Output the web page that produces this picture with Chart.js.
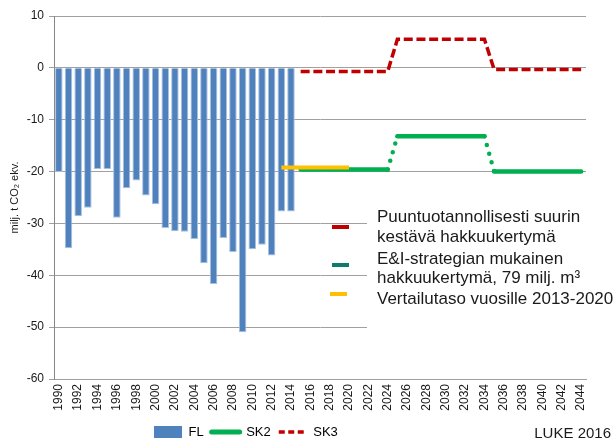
<!DOCTYPE html>
<html>
<head>
<meta charset="utf-8">
<title>FL SK2 SK3</title>
<script src="https://cdn.jsdelivr.net/npm/chart.js@4.4.1/dist/chart.umd.min.js"></script>
<style>
  html, body { margin: 0; padding: 0; background: #fff; }
  canvas { display: block; }
</style>
</head>
<body>
<canvas id="chart" width="614" height="440"></canvas>
<script>
// categories
const years = [
  '1990','1991','1992','1993','1994','1995','1996','1997','1998','1999',
  '2000','2001','2002','2003','2004','2005','2006','2007','2008','2009',
  '2010','2011','2012','2013','2014','2015','2016','2017','2018','2019',
  '2020','2021','2022','2023','2024','2025','2026','2027','2028','2029',
  '2030','2031','2032','2033','2034','2035','2036','2037','2038','2039',
  '2040','2041','2042','2043','2044'
];

// FL, 1990-2014 (milj. t CO2 ekv.)
const fl = [
  -20.1, -34.8, -28.6, -27.0, -19.5, -19.5, -28.9, -23.2, -21.7, -24.6,
  -26.3, -30.9, -31.5, -31.6, -33.0, -37.7, -41.7, -32.8, -35.5, -51.0,
  -35.0, -34.1, -36.2, -27.7, -27.7
];

// scenarios 2015-2044
const sk2 = [
  -19.6, -19.6, -19.6, -19.6, -19.6, -19.6, -19.6, -19.6, -19.6, -19.6,
  -13.2, -13.2, -13.2, -13.2, -13.2, -13.2, -13.2, -13.2, -13.2, -13.2,
  -20.0, -20.0, -20.0, -20.0, -20.0, -20.0, -20.0, -20.0, -20.0, -20.0
];
const sk3 = [
  -0.7, -0.7, -0.7, -0.7, -0.7, -0.7, -0.7, -0.7, -0.7, -0.7,
  5.5, 5.5, 5.5, 5.5, 5.5, 5.5, 5.5, 5.5, 5.5, 5.5,
  -0.3, -0.3, -0.3, -0.3, -0.3, -0.3, -0.3, -0.3, -0.3, -0.3
];
// vertailutaso 2013-2020
const refLevel = [-19.2, -19.2, -19.2, -19.2, -19.2, -19.2, -19.2, -19.2];

const yTicks = [10, 0, -10, -20, -30, -40, -50, -60];

const BLUE = '#4F81BD';
const GREEN = '#00B050';
const RED = '#C00000';
const TEAL = '#0E7C6B';
const YELLOW = '#FFC000';
const TEXT = '#1a1a1a';
const GRID = '#A0A0A0';
const FONT = '"Liberation Sans", Arial, sans-serif';

// place a series on the year axis
function onYears(startYear, values) {
  const out = years.map(() => null);
  const i0 = years.indexOf(String(startYear));
  values.forEach((v, i) => { out[i0 + i] = v; });
  return out;
}

const noteText = [
  { lines: ['Puuntuotannollisesti suurin', 'kestävä hakkuukertymä'], color: RED },
  { lines: ['E&I-strategian mukainen', 'hakkuukertymä, 79 milj. m³'], color: TEAL },
  { lines: ['Vertailutaso vuosille 2013-2020'], color: YELLOW }
];

const notes = {
  id: 'notes',
  beforeDatasetsDraw(chart) {
    // white box behind the note text hides the grid lines
    const ctx = chart.ctx;
    ctx.save();
    ctx.fillStyle = '#fff';
    ctx.fillRect(367, 190, chart.width - 367, 150);
    ctx.restore();
  },
  afterDraw(chart) {
    const ctx = chart.ctx;
    ctx.save();
    ctx.font = '17px ' + FONT;
    ctx.fillStyle = TEXT;
    ctx.textBaseline = 'alphabetic';
    const baselines = [[222, 242], [264, 283], [304]];
    const marks = [227, 265, 294];
    noteText.forEach((n, k) => {
      n.lines.forEach((t, j) => ctx.fillText(t, 377, baselines[k][j]));
      ctx.fillStyle = n.color;
      ctx.fillRect(k === 2 ? 330 : 332, marks[k] - 2, 17, 4);
      ctx.fillStyle = TEXT;
    });
    ctx.font = '15px ' + FONT;
    ctx.textAlign = 'right';
    ctx.fillText('LUKE 2016', 611, 438);
    ctx.restore();
  },
  afterLayout(chart) {
    // x labels are clipped to the scale box: let it reach the canvas bottom
    const x = chart.scales.x;
    x.bottom = chart.height;
    x.height = x.bottom - x.top;
    // legend sits left of centre, as in the original
    const lg = chart.legend;
    if (!lg || !lg.lineWidths) return;
    const pad = lg.options.labels.padding;
    const start = (lg.left + pad + lg.right - lg.lineWidths[0]) / 2;
    const dx = 154 - start;
    lg.left += dx; lg.right += dx;
    const dy = 432 - (lg.top + pad + 6.5);
    lg.top += dy; lg.bottom += dy;
  }
};

new Chart(document.getElementById('chart'), {
  type: 'bar',
  data: {
    labels: years,
    datasets: [
      {
        label: 'FL',
        data: onYears(1990, fl),
        backgroundColor: BLUE,
        borderColor: '#A9C1E0',
        borderWidth: { left: 1, right: 1, top: 0, bottom: 1 },
        borderSkipped: false,
        categoryPercentage: 1,
        barPercentage: 0.78,
        order: 3
      },
      {
        type: 'line',
        label: 'SK2',
        data: onYears(2015, sk2),
        borderColor: GREEN,
        borderWidth: 4.5,
        borderCapStyle: 'round',
        pointRadius: 0,
        pointHoverRadius: 0,
        segment: {
          borderDash: c => c.p0.parsed.y !== c.p1.parsed.y ? [0, 9] : undefined
        },
        order: 1
      },
      {
        type: 'line',
        label: 'SK3',
        data: onYears(2015, sk3),
        borderColor: RED,
        borderWidth: 3.5,
        borderDash: [9, 3.7],
        pointRadius: 0,
        pointHoverRadius: 0,
        order: 2
      },
      {
        type: 'line',
        label: 'Vertailutaso vuosille 2013-2020',
        data: onYears(2013, refLevel),
        borderColor: YELLOW,
        borderWidth: 4,
        pointRadius: 0,
        pointHoverRadius: 0,
        order: 0
      }
    ]
  },
  options: {
    responsive: false,
    animation: false,
    events: [],
    layout: { padding: { top: 16, right: 28, left: 0, bottom: 0 } },
    plugins: {
      tooltip: { enabled: false },
      legend: {
        position: 'bottom',
        labels: {
          usePointStyle: true,
          pointStyleWidth: 28,
          boxWidth: 28,
          boxHeight: 12,
          padding: 8,
          color: TEXT,
          font: { family: FONT, size: 13 },
          generateLabels: () => [
            { text: 'FL', fillStyle: BLUE, strokeStyle: BLUE, lineWidth: 0, pointStyle: 'rect', datasetIndex: 0 },
            { text: 'SK2', fillStyle: GREEN, strokeStyle: GREEN, lineWidth: 5, lineCap: 'round', pointStyle: 'line', datasetIndex: 1 },
            { text: 'SK3', fillStyle: RED, strokeStyle: RED, lineWidth: 3.5, lineDash: [6, 3.5], pointStyle: 'line', datasetIndex: 2 }
          ]
        }
      }
    },
    scales: {
      x: {
        grid: { display: false, drawTicks: false },
        border: { display: true, color: GRID, width: 1 },
        ticks: {
          autoSkip: false,
          minRotation: 90,
          maxRotation: 90,
          padding: 5,
          color: TEXT,
          font: { family: FONT, size: 12 },
          callback: function (v, i) { return i % 2 === 0 ? years[i] : ''; }
        },
        afterFit(scale) {
          const lg = scale.chart.legend;
          scale.height = 440 - (lg ? lg.height : 0) - 379;
        }
      },
      y: {
        min: -60,
        max: 10,
        afterBuildTicks(scale) {
          scale.ticks = yTicks.map(v => ({ value: v }));
        },
        grid: { color: GRID, lineWidth: 1, tickLength: 5 },
        border: { display: true, color: '#888', width: 1 },
        ticks: {
          padding: 5,
          color: TEXT,
          font: { family: FONT, size: 12 }
        },
        title: {
          display: true,
          text: 'milj. t CO₂ ekv.',
          color: TEXT,
          padding: { top: 8, bottom: 0 },
          font: { family: FONT, size: 11 }
        },
        afterFit(scale) { scale.width = 54; }
      }
    }
  },
  plugins: [notes]
});
</script>
</body>
</html>
